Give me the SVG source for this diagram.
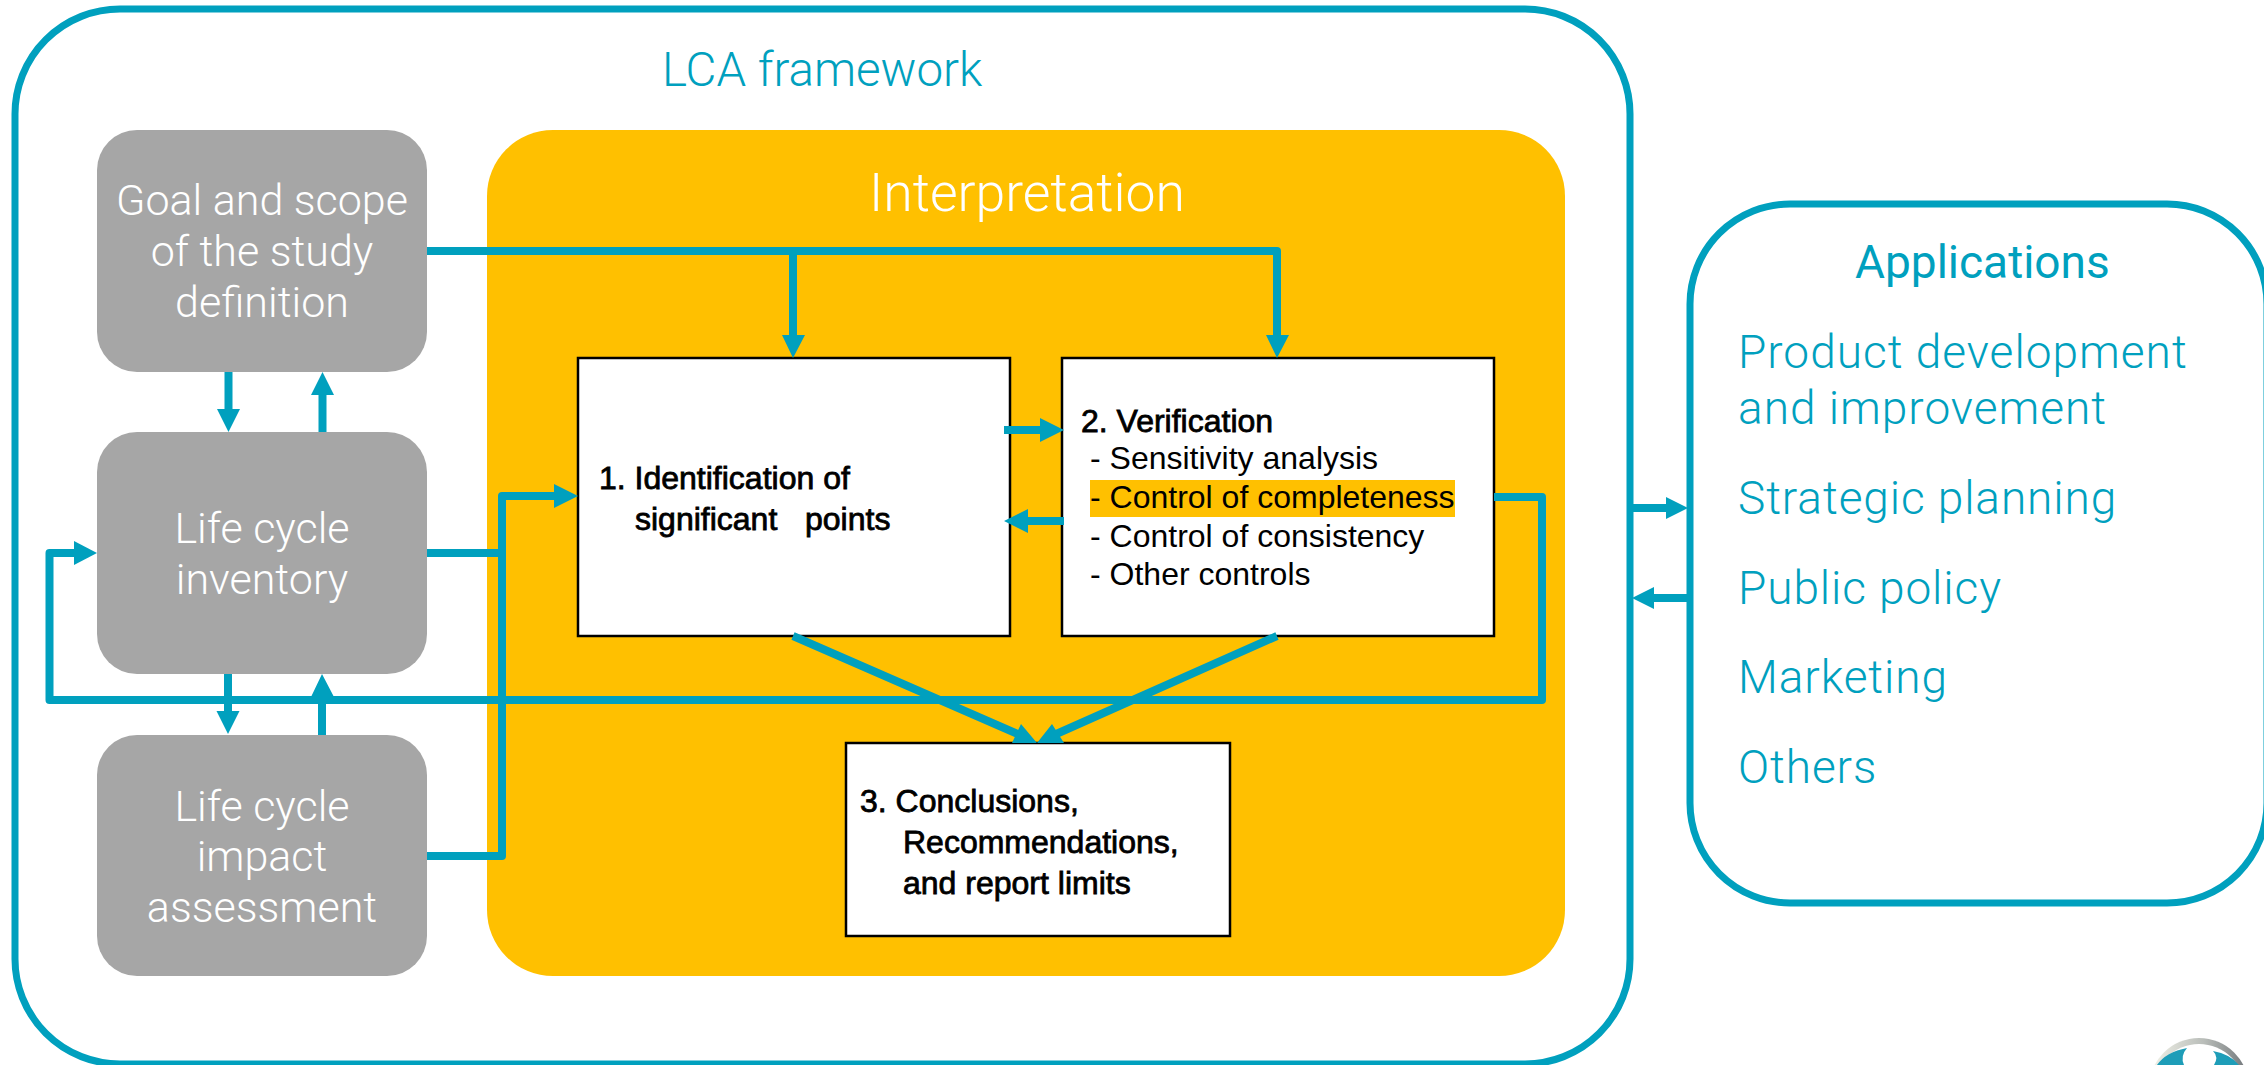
<svg xmlns="http://www.w3.org/2000/svg" width="2264" height="1065" viewBox="0 0 2264 1065">
<style>
.frame{fill:#fff;stroke:#00A0BE;stroke-width:7}
.gray{fill:#A6A6A6}
.box{fill:#fff;stroke:#000;stroke-width:2.5}
.w{font-family:Roboto,"Liberation Sans",sans-serif;font-weight:300;font-size:43px;fill:#fff;text-anchor:middle}
.t{font-family:Roboto,"Liberation Sans",sans-serif;font-weight:300;font-size:46px;fill:#00A0BE}
.k{font-family:"Liberation Sans",Arial,sans-serif;font-size:32px;fill:#000}
.b{stroke:#000;stroke-width:.8}
.c{fill:none;stroke:#00A0BE;stroke-width:8;stroke-linejoin:round}
.h{fill:#00A0BE}
</style>
<defs>
<linearGradient id="ring" x1="0" y1="0" x2="1" y2="0"><stop offset="0" stop-color="#f4f4ea"/><stop offset="0.55" stop-color="#b9bdb9"/><stop offset="1" stop-color="#6f7478"/></linearGradient>
</defs>
<g id="lca-framework"><rect class="frame" x="15" y="9" width="1615" height="1055" rx="105"/>
<text class="t" x="662" y="86" style="font-size:47.500px">LCA framework</text></g>
<g id="interpretation"><rect x="487" y="130" width="1078" height="846" rx="66" fill="#FFC000"/>
<text class="w" x="1027" y="211" style="font-size:53.500px">Interpretation</text></g>
<g id="goal"><rect class="gray" x="97" y="130" width="330" height="242" rx="40"/>
<text class="w" x="262" y="215">Goal and scope</text><text class="w" x="262" y="266">of the study</text><text class="w" x="262" y="317">definition</text></g>
<g id="inventory"><rect class="gray" x="97" y="432" width="330" height="242" rx="40"/>
<text class="w" x="262" y="543">Life cycle</text><text class="w" x="262" y="594">inventory</text></g>
<g id="impact"><rect class="gray" x="97" y="735" width="330" height="241" rx="40"/>
<text class="w" x="262" y="821">Life cycle</text><text class="w" x="262" y="871">impact</text><text class="w" x="262" y="922">assessment</text></g>
<g id="step1"><rect class="box" x="578" y="358" width="432" height="278"/>
<text class="k b" x="599" y="489">1. Identification of</text><text class="k b" x="635" y="530">significant<tspan x="805">points</tspan></text></g>
<g id="step2"><rect class="box" x="1062" y="358" width="432" height="278"/>
<rect x="1090" y="480" width="365" height="37" fill="#FFC000"/>
<text class="k b" x="1081" y="432">2. Verification</text>
<text class="k" x="1090" y="469">- Sensitivity analysis</text>
<text class="k" x="1090" y="508">- Control of completeness</text>
<text class="k" x="1090" y="547">- Control of consistency</text>
<text class="k" x="1090" y="585">- Other controls</text></g>
<g id="step3"><rect class="box" x="846" y="743" width="384" height="193"/>
<text class="k b" x="860" y="812">3. Conclusions,</text><text class="k b" x="903" y="853">Recommendations,</text><text class="k b" x="903" y="894">and report limits</text></g>
<g id="applications"><rect class="frame" x="1690" y="204" width="577" height="699" rx="100"/>
<text class="t" x="1855" y="278" style="font-weight:400">Applications</text>
<text class="t" x="1738" y="368" style="letter-spacing:1px">Product development</text>
<text class="t" x="1738" y="424" style="letter-spacing:1px">and improvement</text>
<text class="t" x="1738" y="514" style="letter-spacing:.9px">Strategic planning</text>
<text class="t" x="1738" y="604" style="letter-spacing:.9px">Public policy</text>
<text class="t" x="1738" y="693" style="letter-spacing:.9px">Marketing</text>
<text class="t" x="1738" y="783" style="letter-spacing:.9px">Others</text></g>
<g id="connectors">
<path class="c" d="M427 251H1277V338M793 251V338"/>
<path class="h" d="M782 335H805L793 358ZM1266 335H1289L1277 358Z"/>
<path class="c" d="M228.500 372V412M322.500 432V392M228 674V714M322 735V695"/>
<path class="h" d="M217 409H240L228.500 432ZM311 395H334L322.500 372ZM216.500 711H239.500L228 734ZM311 697H334L322 674Z"/>
<path class="c" d="M427 553H502M427 856H502V496H556"/>
<path class="h" d="M554 484V508L578 496Z"/>
<path class="c" d="M1494 497H1542V700H49.500V553H76"/>
<path class="h" d="M74 541V565L97 553Z"/>
<path class="c" d="M1004 430H1044M1064 521H1026"/>
<path class="h" d="M1040 418V442L1064 430ZM1028 509V533L1004 521Z"/>
<path class="c" d="M793 636L1020 735M1277 636L1054 735"/>
<path class="h" d="M1037 743L1012 743L1021 724ZM1037 743L1064 743L1052 724Z"/>
<path class="c" d="M1630 508H1668M1690 598H1652"/>
<path class="h" d="M1666 497V519L1688 508ZM1654 587V609L1632 598Z"/>
</g>
<g id="logo"><circle cx="2199" cy="1088" r="50" fill="url(#ring)"/><circle cx="2199" cy="1090" r="46" fill="#fff"/>
<path d="M2157 1065Q2166 1052 2187 1048Q2180 1056 2184 1065ZM2214 1065Q2219 1057 2213 1051Q2230 1054 2239 1065Z" fill="#1E9DB8"/></g>
</svg>
